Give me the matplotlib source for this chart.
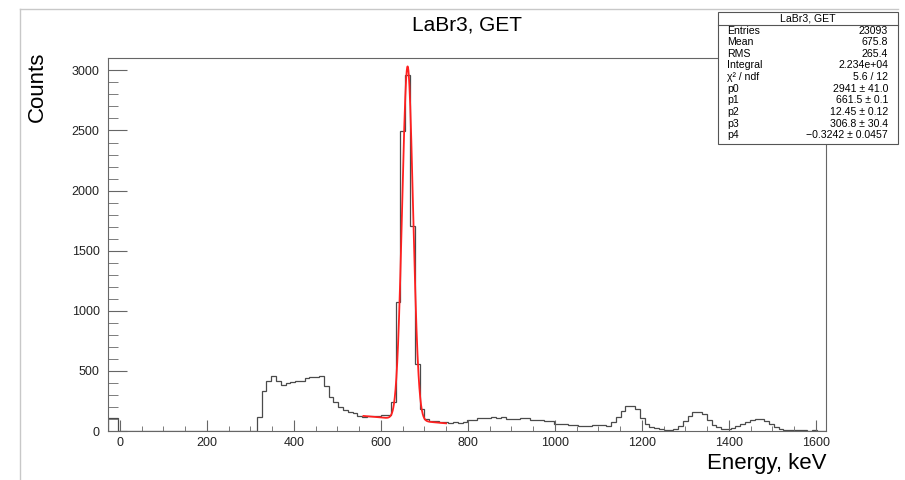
import numpy as np
import matplotlib
matplotlib.use('Agg')
import matplotlib.pyplot as plt
from matplotlib.ticker import MultipleLocator
from matplotlib.lines import Line2D

plt.rcParams['font.family'] = ['Liberation Sans', 'DejaVu Sans']

# histogram: 150 bins of 11 keV starting at -26 keV
bin_start = -26
bin_width = 11
counts = [
    105, 105, 0, 0, 0, 0, 0, 0, 0, 0,
    0, 0, 0, 0, 0, 0, 0, 0, 0, 0,
    0, 0, 0, 0, 0, 0, 0, 0, 0, 0,
    0, 119, 335, 418, 460, 415, 380, 398, 410, 416,
    420, 445, 448, 452, 460, 377, 280, 244, 197, 177,
    160, 150, 125, 120, 125, 127, 128, 133, 130, 240,
    1072, 2496, 2962, 1707, 557, 183, 100, 85, 80, 75,
    72, 70, 72, 70, 73, 90, 92, 105, 108, 112,
    114, 110, 116, 100, 102, 98, 104, 105, 92, 90,
    93, 86, 84, 62, 58, 60, 53, 52, 44, 45,
    43, 46, 52, 50, 39, 75, 120, 170, 211, 205,
    185, 110, 60, 35, 25, 17, 12, 11, 20, 45,
    85, 127, 160, 158, 140, 95, 50, 30, 20, 17,
    25, 40, 60, 75, 94, 100, 98, 85, 58, 32,
    18, 12, 8, 7, 6, 5, 4, 5, 3, 2,
]

# fit: gaus + pol1 over the photopeak
fit_range = (560, 750)
p0, p1, p2, p3, p4 = 2941, 661.5, 12.45, 306.8, -0.3242

# stats box
stat_title = 'LaBr3, GET'
stat_names = ['Entries', 'Mean', 'RMS', 'Integral', 'χ² / ndf', 'p0', 'p1', 'p2', 'p3', 'p4']
stat_values = ['23093', '675.8', '265.4', '2.234e+04', '5.6 / 12', '2941 ± 41.0',
               '661.5 ± 0.1', '12.45 ± 0.12', '306.8 ± 30.4', '−0.3242 ± 0.0457']

W, H = 905, 480
fig = plt.figure(figsize=(W / 100, H / 100), dpi=100)
ax = fig.add_axes([108 / W, 1 - 431 / H, (826 - 108) / W, (431 - 58) / H])

edges = bin_start + bin_width * np.arange(len(counts) + 1)
ax.stairs(counts, edges, color='#4a4a4a', linewidth=0.9)

xf = np.linspace(fit_range[0], fit_range[1], 400)
yf = p0 * np.exp(-0.5 * ((xf - p1) / p2) ** 2) + p3 + p4 * xf
ax.plot(xf, yf, color='#ff2020', linewidth=1.3)

ax.set_xlim(-27, 1623)
ax.set_ylim(0, 3103)
ax.xaxis.set_major_locator(MultipleLocator(200))
ax.xaxis.set_minor_locator(MultipleLocator(50))
ax.yaxis.set_major_locator(MultipleLocator(500))
ax.yaxis.set_minor_locator(MultipleLocator(100))
ax.tick_params(which='both', direction='in', color='#666666', labelsize=9,
               labelcolor='#222222')
ax.tick_params(axis='y', which='major', length=14, pad=6)
ax.tick_params(axis='y', which='minor', length=7)
ax.tick_params(axis='x', which='major', length=8, pad=4)
ax.tick_params(axis='x', which='minor', length=3.6)
for s in ax.spines.values():
    s.set_color('#666666')
    s.set_linewidth(0.8)

# titles
fig.text(467 / W, 1 - 25 / H, 'LaBr3, GET', ha='center', va='center', fontsize=15)
fig.text(37 / W, 1 - 52 / H, 'Counts', rotation=90, ha='center', va='top', fontsize=16)
fig.text(826 / W, 1 - 463 / H, 'Energy, keV', ha='right', va='center', fontsize=16)

# window borders
fig.add_artist(Line2D([20 / W, 20 / W], [0, 1 - 9 / H], transform=fig.transFigure,
                      color='#c8c8c8', linewidth=1))
fig.add_artist(Line2D([20 / W, 898 / W], [1 - 9 / H, 1 - 9 / H], transform=fig.transFigure,
                      color='#c8c8c8', linewidth=1))

# stats box
bx0, bx1, by0, by1 = 718, 898, 12, 144
box = plt.Rectangle((bx0 / W, 1 - by1 / H), (bx1 - bx0) / W, (by1 - by0) / H,
                    transform=fig.transFigure, facecolor='white', edgecolor='#555555',
                    linewidth=0.8, zorder=5)
fig.add_artist(box)
fig.add_artist(Line2D([bx0 / W, bx1 / W], [1 - 24.5 / H, 1 - 24.5 / H],
                      transform=fig.transFigure, color='#555555', linewidth=0.8, zorder=6))
fig.text((bx0 + bx1) / 2 / W, 1 - 18.3 / H, stat_title, ha='center', va='center',
         fontsize=7.6, zorder=7)
for i, (n, v) in enumerate(zip(stat_names, stat_values)):
    y = 1 - (30.5 + 11.65 * i) / H
    fig.text(727 / W, y, n, ha='left', va='center', fontsize=7.6, zorder=7)
    fig.text(888 / W, y, v, ha='right', va='center', fontsize=7.6, zorder=7)

fig.savefig('out.png', dpi=100)
